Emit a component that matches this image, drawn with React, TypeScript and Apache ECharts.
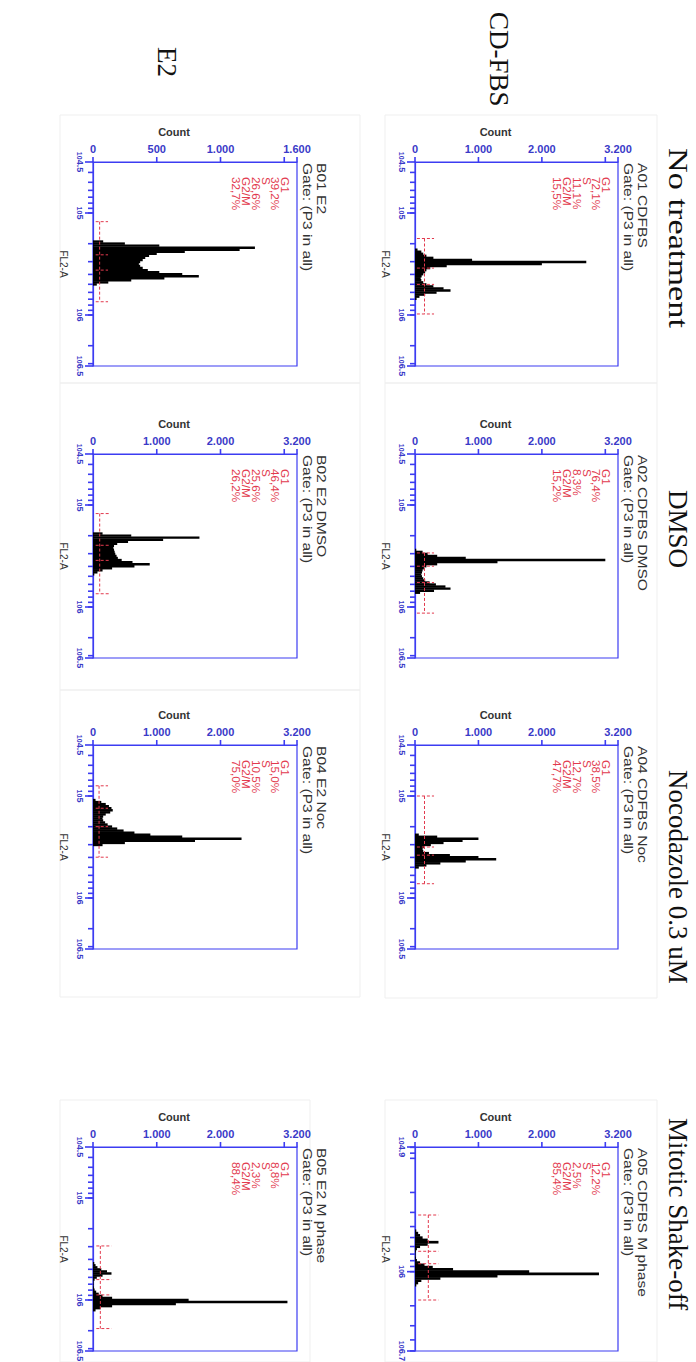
import React, { useEffect, useRef } from 'react';
import * as echarts from 'echarts';

const BLUE = '#3c3cf2';
const BLUE_TXT = '#3a3ac8';
const RED = '#e23a4e';
const SANS = '"Liberation Sans", Arial, sans-serif';
const SERIF = '"Liberation Serif", "Times New Roman", serif';

// ---- headers ----
const colHeaders = ['No treatment', 'DMSO', 'Nocodazole 0.3 uM', 'Mitotic Shake-off'];
const rowHeaders = ['CD-FBS', 'E2'];

// ---- panel meta ----
const panelTitles = ['A01 CDFBS', 'A02 CDFBS DMSO', 'A04 CDFBS Noc', 'A05 CDFBS M phase', 'B01 E2', 'B02 E2 DMSO', 'B04 E2 Noc', 'B05 E2 M phase'];
const gateText = 'Gate: (P3 in all)';
const g1Pct = ['72,1%', '76,4%', '38,5%', '12,2%', '39,2%', '46,4%', '15,0%', '8,8%'];
const sPct = ['11,1%', '8,3%', '12,7%', '2,5%', '26,6%', '25,6%', '10,5%', '2,3%'];
const g2Pct = ['15,5%', '15,2%', '47,7%', '85,4%', '32,7%', '26,2%', '75,0%', '88,4%'];

// ---- count axis ----
const countMax = [3200, 3200, 3200, 3200, 1600, 3200, 3200, 3200];
const countTicks3200 = [0, 1000, 2000, 3000, 3200];
const countLabels3200 = [0, 1000, 2000, 3200];
const countTicks1600 = [0, 500, 1000, 1500, 1600];
const countLabels1600 = [0, 500, 1000, 1600];

// ---- FL2-A axis (log10 exponent) ----
const flMin = [4.5, 4.5, 4.5, 4.9, 4.5, 4.5, 4.5, 4.5];
const flMax = [6.5, 6.5, 6.5, 6.7, 6.5, 6.5, 6.5, 6.5];
const flLabelsStd = [4.5, 5, 6, 6.5];
const flLabelsA05 = [4.9, 6, 6.7];

// ---- histograms: counts per bin of log10(FL2-A), bin width 0.02 ----
const BIN_WIDTH = 0.02;
const histStart = [5.36, 5.44, 5.38, 5.64, 5.28, 5.28, 5.04, 5.64];
const histA01 = [40, 100, 130, 180, 290, 900, 2700, 2000, 500, 240, 180, 160, 130, 105, 90, 100, 130, 180, 290, 450, 560, 340, 160, 70, 25];
const histA02 = [20, 120, 200, 350, 800, 3000, 1300, 350, 180, 140, 120, 110, 100, 110, 130, 160, 230, 330, 480, 560, 300, 80];
const histA04 = [60, 350, 1000, 750, 450, 250, 150, 120, 130, 220, 550, 1000, 1280, 800, 400, 180, 60];
const histA05 = [20, 50, 80, 120, 200, 370, 200, 80, 30, 15, 10, 10, 15, 30, 80, 150, 280, 600, 1800, 2900, 1300, 400, 100, 50, 20];
const histB01 = [80, 250, 520, 1270, 1150, 720, 500, 440, 410, 390, 370, 360, 370, 390, 430, 520, 700, 830, 560, 300, 120, 30];
const histB02 = [150, 600, 1670, 1100, 550, 380, 330, 320, 330, 340, 350, 370, 390, 450, 620, 890, 650, 300, 150, 70, 20];
const histB04 = [40, 130, 200, 250, 290, 310, 270, 200, 160, 150, 160, 190, 230, 300, 380, 480, 650, 900, 1400, 2330, 1600, 500, 150];
const histB05 = [20, 40, 70, 130, 220, 290, 150, 60, 25, 10, 10, 10, 15, 25, 50, 90, 150, 300, 1500, 3050, 1300, 300, 120, 40];
const histCounts = [histA01, histA02, histA04, histA05, histB01, histB02, histB04, histB05];

// ---- gates (G1 start, S start, G2/M start, G2/M end) in log10(FL2-A) ----
const gateBounds = [
  [5.25, 5.54, 5.70, 5.99],
  [5.47, 5.60, 5.76, 6.06],
  [5.00, 5.50, 5.58, 5.86],
  [5.50, 5.82, 5.93, 6.25],
  [5.085, 5.41, 5.56, 5.87],
  [5.084, 5.395, 5.543, 5.87],
  [4.90, 5.12, 5.30, 5.60],
  [5.47, 5.80, 5.95, 6.28],
];
const gateLevel = [150, 150, 150, 210, 52, 105, 95, 115];
const gateCapLo = [30, 30, 30, 50, 21, 42, 42, 52];
const gateCapHi = [300, 300, 300, 370, 118, 262, 236, 290];

// ---- layout ----
const GRID_LEFT = [415, 415, 415, 415, 93, 93, 93, 93];
const GRID_TOP = [162, 454, 745, 1147, 162, 454, 745, 1147];
const GRID_W = [203, 203, 203, 203, 204, 204, 204, 204];
const GRID_H = 204;
const COL_HEADER_X = 678;
const COL_HEADER_Y = [148, 490, 770, 1118];
const COL_HEADER_SCALE = [1.27, 1, 1, 1];
const ROW_HEADER_X = [499, 167];
const ROW_HEADER_Y = [12, 47];
const FRAMES = [
  [385, 115, 272, 268], [385, 383, 272, 615], [385, 1100, 272, 262],
  [60, 115, 300, 268], [60, 383, 300, 307], [60, 690, 300, 307], [60, 1100, 250, 262],
];
const MINOR_LEN = 5;
const MAJOR_LEN = 8;
const COUNT_TICK_LEN = 5;
const TICK_WIDTH = 1.6;

function fmtCount(v: number): string {
  if (v < 1000) return String(v);
  const th = Math.floor(v / 1000);
  const rest = String(v % 1000).padStart(3, '0');
  return th + '.' + rest;
}

function minorTicks(min: number, max: number): number[] {
  const out: number[] = [];
  for (let n = 4; n <= 6; n++) {
    for (let k = 1; k <= 9; k++) {
      const v = n + Math.log10(k);
      if (v >= min - 1e-6 && v <= max + 1e-6) out.push(v);
    }
  }
  return out;
}

function buildOption() {
  const grid: any[] = [];
  const xAxis: any[] = [];
  const yAxis: any[] = [];
  const series: any[] = [];
  const graphic: any[] = [];

  FRAMES.forEach((f) => {
    graphic.push({ type: 'rect', shape: { x: f[0], y: f[1], width: f[2], height: f[3] }, style: { fill: 'none', stroke: '#efefef', lineWidth: 1 }, silent: true });
  });

  colHeaders.forEach((t, i) => {
    graphic.push({
      type: 'text', x: COL_HEADER_X, y: COL_HEADER_Y[i], rotation: -Math.PI / 2, scaleX: COL_HEADER_SCALE[i],
      style: { text: t, fill: '#111', fontSize: 27, fontFamily: SERIF, align: 'left', verticalAlign: 'middle' },
    });
  });
  rowHeaders.forEach((t, i) => {
    graphic.push({
      type: 'text', x: ROW_HEADER_X[i], y: ROW_HEADER_Y[i], rotation: -Math.PI / 2,
      style: { text: t, fill: '#111', fontSize: 27, fontFamily: SERIF, align: 'left', verticalAlign: 'middle' },
    });
  });

  for (let i = 0; i < 8; i++) {
    const left = GRID_LEFT[i], top = GRID_TOP[i], w = GRID_W[i];
    const right = left + w;
    grid.push({
      left, top, width: w, height: GRID_H, show: true, borderColor: BLUE, borderWidth: 1.2,
      backgroundColor: 'transparent', containLabel: false, outerBoundsMode: 'none',
    });
    const big = countMax[i] === 3200;
    xAxis.push({
      type: 'value', gridIndex: i, position: 'top', min: 0, max: countMax[i],
      axisLine: { show: true, lineStyle: { color: BLUE, width: 1.2 } },
      axisTick: { show: false },
      axisLabel: {
        show: true, customValues: big ? countLabels3200 : countLabels1600, margin: 8,
        formatter: (v: number) => fmtCount(v), color: BLUE_TXT, fontSize: 11, fontWeight: 'bold', fontFamily: SANS,
      },
      splitLine: { show: false },
      name: 'Count', nameLocation: 'middle', nameGap: 25,
      nameTextStyle: { color: '#333', fontSize: 11, fontWeight: 'bold', fontFamily: SANS, padding: [0, 42, 0, 0] },
    });
    const labels = i === 3 ? flLabelsA05 : flLabelsStd;
    yAxis.push({
      type: 'value', gridIndex: i, position: 'left', min: flMin[i], max: flMax[i], inverse: true,
      axisLine: { show: true, lineStyle: { color: BLUE, width: 1.2 } },
      axisTick: { show: false },
      axisLabel: {
        show: true, customValues: labels, rotate: -90, margin: 9,
        formatter: (v: number) => '{b|10}{e|' + String(Math.round(v * 10) / 10) + '}',
        rich: {
          b: { fontSize: 7, color: BLUE_TXT, fontFamily: SANS, fontWeight: 'bold' },
          e: { fontSize: 9, color: BLUE_TXT, fontFamily: SANS, fontWeight: 'bold' },
        },
      },
      splitLine: { show: false },
      name: 'FL2-A', nameLocation: 'middle', nameRotate: -90, nameGap: 25,
      nameTextStyle: { color: '#333', fontSize: 10, fontFamily: SANS },
    });

    const bins = histCounts[i].map((c, k) => [c, histStart[i] + k * BIN_WIDTH]);
    series.push({
      type: 'custom', xAxisIndex: i, yAxisIndex: i, data: bins, encode: { x: 0, y: 1 }, silent: true,
      renderItem: (params: any, api: any) => {
        const c = api.value(0);
        const y = api.value(1);
        const p0 = api.coord([0, y - BIN_WIDTH / 2]);
        const p1 = api.coord([c, y + BIN_WIDTH / 2]);
        return {
          type: 'rect',
          shape: { x: p0[0], y: Math.min(p0[1], p1[1]) - 0.2, width: p1[0] - p0[0], height: Math.abs(p1[1] - p0[1]) + 0.4 },
          style: { fill: '#000' },
        };
      },
    });

    const gb = gateBounds[i];
    const segs: number[][] = [[gateLevel[i], gb[0], gateLevel[i], gb[3]]];
    gb.forEach((b) => segs.push([gateCapLo[i], b, gateCapHi[i], b]));
    series.push({
      type: 'custom', xAxisIndex: i, yAxisIndex: i, data: segs, encode: { x: [0, 2], y: [1, 3] }, silent: true,
      renderItem: (params: any, api: any) => {
        const a = api.coord([api.value(0), api.value(1)]);
        const b = api.coord([api.value(2), api.value(3)]);
        return {
          type: 'line',
          shape: { x1: a[0], y1: a[1], x2: b[0], y2: b[1] },
          style: { stroke: RED, lineWidth: 1, lineDash: [3, 2], fill: 'none' },
        };
      },
    });

    // panel title
    graphic.push({
      type: 'text', x: right + 32, y: top + 1, rotation: -Math.PI / 2, scaleX: 1.2,
      style: { text: panelTitles[i] + '\n' + gateText, fill: '#333', fontSize: 13, lineHeight: 14.5, fontFamily: SANS, align: 'left', verticalAlign: 'top' },
    });
    // stats
    graphic.push({
      type: 'text', x: right - 7, y: top + 15, rotation: -Math.PI / 2, scaleX: 1.07,
      style: {
        text: ['G1', g1Pct[i], 'S', sPct[i], 'G2/M', g2Pct[i]].join('\n'),
        fill: RED, fontSize: 11, lineHeight: 9.8, fontFamily: SANS, align: 'left', verticalAlign: 'top',
      },
    });
  }

  return { animation: false, backgroundColor: '#fff', grid, xAxis, yAxis, series, graphic };
}

// axis ticks placed through the chart's own scales (convertToPixel)
function buildTicks(chart: any): any[] {
  const out: any[] = [];
  for (let i = 0; i < 8; i++) {
    const labels = i === 3 ? flLabelsA05 : flLabelsStd;
    const fl = minorTicks(flMin[i], flMax[i]).map((v) => [v, MINOR_LEN]).concat(labels.map((v) => [v, MAJOR_LEN]));
    fl.forEach(([v, len]) => {
      const p = chart.convertToPixel({ gridIndex: i }, [0, v]);
      if (!p) return;
      out.push({ type: 'line', silent: true, z: 10, shape: { x1: p[0] - len, y1: p[1], x2: p[0], y2: p[1] }, style: { stroke: BLUE, lineWidth: TICK_WIDTH } });
    });
    const ct = countMax[i] === 3200 ? countTicks3200 : countTicks1600;
    ct.forEach((v) => {
      const p = chart.convertToPixel({ gridIndex: i }, [v, flMin[i]]);
      if (!p) return;
      out.push({ type: 'line', silent: true, z: 10, shape: { x1: p[0], y1: p[1] - COUNT_TICK_LEN, x2: p[0], y2: p[1] }, style: { stroke: BLUE, lineWidth: TICK_WIDTH } });
    });
  }
  return out;
}

export default function App() {
  const ref = useRef<HTMLDivElement>(null);
  useEffect(() => {
    if (!ref.current) return;
    const chart = echarts.init(ref.current, undefined, { renderer: 'svg' });
    const option: any = buildOption();
    chart.setOption(option);
    const ticks = buildTicks(chart);
    chart.setOption({ graphic: option.graphic.concat(ticks) });
    return () => chart.dispose();
  }, []);
  return (
    <div
      ref={ref}
      style={{ position: 'absolute', left: 0, top: 0, width: 696, height: 1362, background: '#fff' }}
    />
  );
}
